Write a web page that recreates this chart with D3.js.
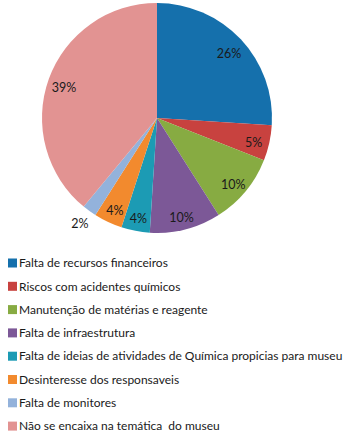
<!DOCTYPE html>
<html>
<head>
<meta charset="UTF-8"/>
<style>
  body { margin: 0; background: #fff; }
  text { font-family: Lato, "Open Sans", sans-serif; fill: #1a1a1a; }
</style>
</head>
<body>
<script src="https://d3js.org/d3.v7.min.js"></script>
<script>
const categories = [
  "Falta de recursos financeiros",
  "Riscos com acidentes químicos",
  "Manutenção de matérias e reagente",
  "Falta de infraestrutura",
  "Falta de ideias de atividades de Química propicias para museu",
  "Desinteresse dos responsaveis",
  "Falta de monitores",
  "Não se encaixa na temática  do museu"
];
const values = [26, 5, 10, 10, 4, 4, 2, 39];
const colors = ["#1570ac", "#c8423f", "#87ab42", "#7c5897", "#1c9bb4", "#f28a2e", "#93b2db", "#e29392"];

const width = 349, height = 435;
const cx = 157, cy = 118, radius = 115;

const svg = d3.select("body").append("svg")
  .attr("width", width)
  .attr("height", height);

const pie = d3.pie().sort(null).value(d => d);
const arcs = pie(values);
const arcPath = d3.arc().innerRadius(0).outerRadius(radius);
const labelArc = d3.arc().innerRadius(radius * 0.86).outerRadius(radius * 0.86);
const outerLabelArc = d3.arc().innerRadius(radius * 1.14).outerRadius(radius * 1.14);

const g = svg.append("g").attr("transform", `translate(${cx},${cy})`);

g.selectAll("path")
  .data(arcs)
  .enter()
  .append("path")
  .attr("d", arcPath)
  .attr("fill", (d, i) => colors[i]);

// small slices get their label outside the pie
g.selectAll("text")
  .data(arcs)
  .enter()
  .append("text")
  .attr("transform", d => {
    if (d.data < 3) return "translate(" + outerLabelArc.centroid(d) + ")";
    const c = labelArc.centroid(d);
    return "translate(" + c[0] + "," + (c[1] + 3.5) + ")";
  })
  .attr("text-anchor", "middle")
  .attr("dy", "0.35em")
  .attr("font-size", "12.5px")
  .text(d => d.data + "%");

const legend = svg.append("g").attr("transform", "translate(8,263)");
const row = 23.3;

const items = legend.selectAll("g")
  .data(categories)
  .enter()
  .append("g")
  .attr("transform", (d, i) => `translate(0,${i * row})`);

items.append("rect")
  .attr("x", 0)
  .attr("y", -4.5)
  .attr("width", 9)
  .attr("height", 9)
  .attr("fill", (d, i) => colors[i]);

items.append("text")
  .attr("x", 11)
  .attr("dy", "0.35em")
  .attr("font-size", "12px")
  .attr("xml:space", "preserve")
  .style("white-space", "pre")
  .text(d => d);
</script>
</body>
</html>
